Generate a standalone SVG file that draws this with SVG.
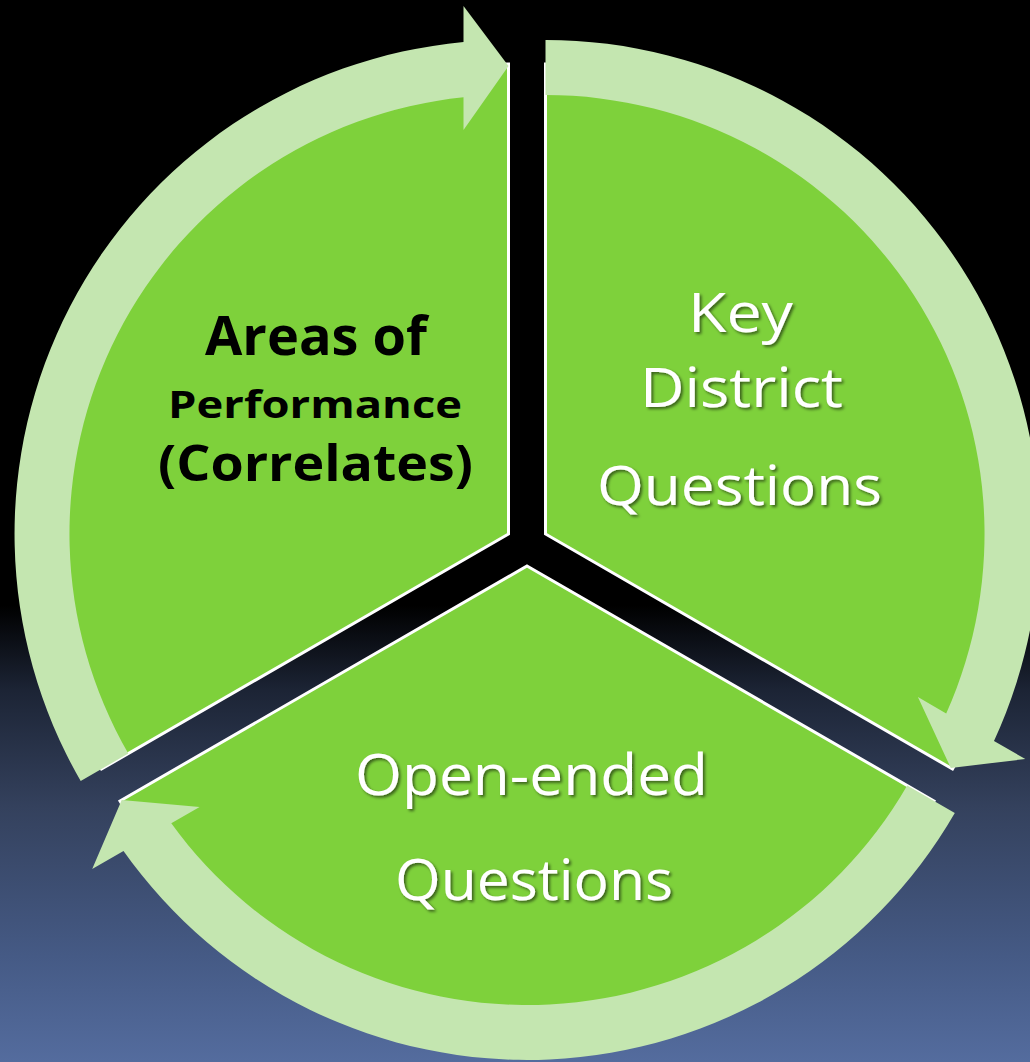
<svg xmlns="http://www.w3.org/2000/svg" width="1030" height="1062" viewBox="0 0 1030 1062">
  <defs>
    <linearGradient id="bg" x1="0" y1="0" x2="0" y2="1062" gradientUnits="userSpaceOnUse">
      <stop offset="0" stop-color="#000000"/>
      <stop offset="0.57" stop-color="#000000"/>
      <stop offset="0.65" stop-color="#1c2435"/>
      <stop offset="0.76" stop-color="#34415d"/>
      <stop offset="0.9" stop-color="#455a85"/>
      <stop offset="1" stop-color="#546c9e"/>
    </linearGradient>
    <filter id="shadow" x="-10%" y="-20%" width="130%" height="150%">
      <feDropShadow dx="2" dy="2" stdDeviation="1.5" flood-color="#000000" flood-opacity="0.55"/>
    </filter>
  </defs>
  <style>
    .wedge { fill: #7ed13b; stroke: #ffffff; stroke-width: 3; stroke-linejoin: miter; }
    .band { fill: #c4e6b0; stroke: none; }
    .dark { font-family: "Open Sans", "Liberation Sans", sans-serif; font-weight: bold; fill: #000000; text-anchor: middle; }
    .light { font-family: "Open Sans", "Liberation Sans", sans-serif; font-weight: normal; fill: #ffffff; text-anchor: middle; filter: url(#shadow); }
  </style>
  <rect x="0" y="0" width="1030" height="1062" fill="url(#bg)"/>

  <g id="node-areas">
    <path class="wedge" d="M508.5,534 L101.5,769 A470,470 0 0 1 508.5,64 Z"/>
    <text class="dark" x="316" y="355" font-size="54" textLength="222" lengthAdjust="spacingAndGlyphs">Areas of</text>
    <text class="dark" x="315" y="418" font-size="38" textLength="294" lengthAdjust="spacingAndGlyphs">Performance</text>
    <text class="dark" x="315.5" y="481" font-size="51" textLength="315" lengthAdjust="spacingAndGlyphs">(Correlates)</text>
  </g>

  <g id="node-key">
    <path class="wedge" d="M545.5,534 L545.5,64 A470,470 0 0 1 952.5,769 Z"/>
    <text class="light" x="740.5" y="332" font-size="54" textLength="105" lengthAdjust="spacingAndGlyphs">Key</text>
    <text class="light" x="741.5" y="407" font-size="54" textLength="203" lengthAdjust="spacingAndGlyphs">District</text>
    <text class="light" x="739.5" y="505" font-size="54" textLength="285" lengthAdjust="spacingAndGlyphs">Questions</text>
  </g>

  <g id="node-open">
    <path class="wedge" d="M527,566 L934,801 A470,470 0 0 1 120,801 Z"/>
    <text class="light" x="531.5" y="795" font-size="57" textLength="353" lengthAdjust="spacingAndGlyphs">Open-ended</text>
    <text class="light" x="534" y="900" font-size="57" textLength="278" lengthAdjust="spacingAndGlyphs">Questions</text>
  </g>

  <g id="connectors">
    <path class="band" d="M80.7,781 A494,494 0 0 1 463.5,42.1 L463.5,6 L508.5,66 L463.5,130 L463.5,97.3 A439,439 0 0 0 128.3,753.5 Z"/>
    <path class="band" d="M545.5,40 A494,494 0 0 1 994,741 L1025.3,759 L950.8,768 L917.9,697 L946.2,713.4 A439,439 0 0 0 545.5,95 Z"/>
    <path class="band" d="M954.8,813 A494,494 0 0 1 123.5,850.9 L92.2,869 L121.7,800 L199.6,807 L171.3,823.3 A439,439 0 0 0 907.2,785.5 Z"/>
  </g>
</svg>
